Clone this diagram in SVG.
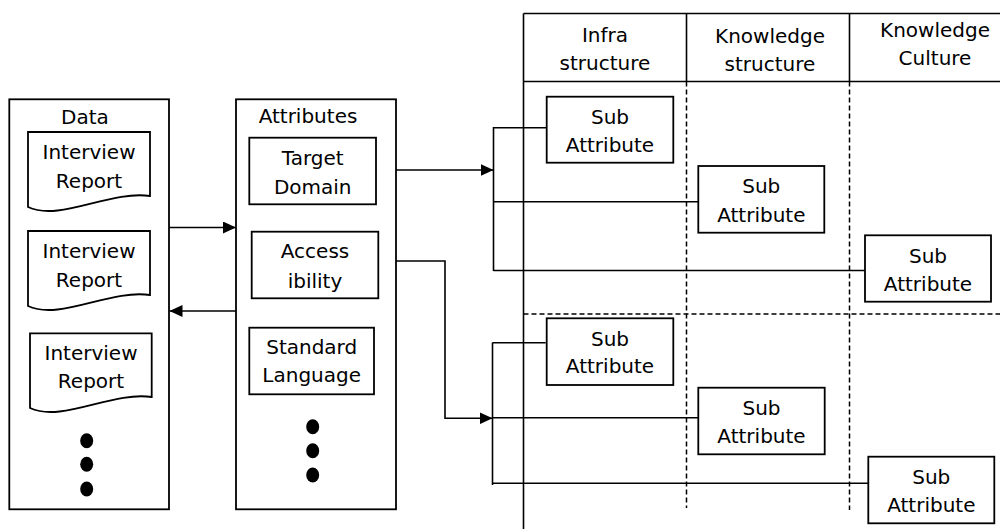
<svg xmlns="http://www.w3.org/2000/svg" width="1000" height="529" viewBox="0 0 1000 529">
<style>
.box{fill:#fff;stroke:#000;stroke-width:1.8}
.ln{fill:none;stroke:#000;stroke-width:1.6}
.dash{fill:none;stroke:#000;stroke-width:1.5;stroke-dasharray:5,3}
text{font-family:"DejaVu Sans","Verdana",sans-serif;font-size:20px;fill:#000;text-anchor:middle}
.dot{fill:#000}
</style>
<defs>
<marker id="ah" viewBox="0 0 13 12" refX="13" refY="6" markerWidth="13" markerHeight="12" markerUnits="userSpaceOnUse" orient="auto">
<path d="M0,0 L13,6 L0,12 Z" fill="#000"/>
</marker>
</defs>
<rect width="1000" height="529" fill="#fff"/>

<g id="grid">
<line class="ln" x1="523.5" y1="13.5" x2="1000" y2="13.5"/>
<line class="ln" x1="523.5" y1="81.5" x2="1000" y2="81.5"/>
<line class="ln" x1="523.5" y1="13.5" x2="523.5" y2="529"/>
<line class="ln" x1="686.5" y1="13.5" x2="686.5" y2="81.5"/>
<line class="ln" x1="849.5" y1="13.5" x2="849.5" y2="81.5"/>
<line class="dash" x1="686.5" y1="81.5" x2="686.5" y2="508"/>
<line class="dash" x1="849.5" y1="81.5" x2="849.5" y2="510"/>
<line class="dash" x1="523.5" y1="314" x2="1000" y2="314"/>
<text x="605" y="41.5">Infra</text>
<text x="605" y="69.5">structure</text>
<text x="770" y="43">Knowledge</text>
<text x="770" y="71">structure</text>
<text x="935" y="37">Knowledge</text>
<text x="935" y="65">Culture</text>
</g>

<g id="connectors">
<line class="ln" x1="169" y1="227.5" x2="236" y2="227.5" marker-end="url(#ah)"/>
<line class="ln" x1="238" y1="311" x2="169.5" y2="311" marker-end="url(#ah)"/>
<line class="ln" x1="376" y1="170" x2="493.5" y2="170" marker-end="url(#ah)"/>
<polyline class="ln" points="378,261 445,261 445,418.3 492.5,418.3" marker-end="url(#ah)"/>
<line class="ln" x1="493.5" y1="127" x2="493.5" y2="271"/>
<line class="ln" x1="493.5" y1="127.7" x2="546.7" y2="127.7"/>
<line class="ln" x1="493.5" y1="201.7" x2="698.3" y2="201.7"/>
<line class="ln" x1="493.5" y1="270.5" x2="867.7" y2="270.5"/>
<line class="ln" x1="492.5" y1="342.5" x2="492.5" y2="485"/>
<line class="ln" x1="492.5" y1="342.7" x2="545.7" y2="342.7"/>
<line class="ln" x1="492.5" y1="417.7" x2="698.3" y2="417.7"/>
<line class="ln" x1="492.5" y1="483.3" x2="876.7" y2="483.3"/>
</g>

<g id="data">
<rect class="box" x="9.3" y="99.3" width="159.7" height="410"/>
<text x="85" y="124">Data</text>
</g>
<g id="report1">
<path class="box" d="M28,132 H150 V196 C110,190 60,222 28,207 Z"/>
<text x="89" y="159">Interview</text>
<text x="89" y="188">Report</text>
</g>
<g id="report2">
<path class="box" d="M28,231 H150 V295 C110,289 60,321 28,306 Z"/>
<text x="89" y="257.7">Interview</text>
<text x="89" y="287">Report</text>
</g>
<g id="report3">
<path class="box" d="M30,333.3 H151.7 V397 C112,391 62,423 30,408 Z"/>
<text x="91" y="360">Interview</text>
<text x="91" y="388">Report</text>
</g>
<g id="data-dots">
<ellipse class="dot" cx="86.7" cy="440.7" rx="6.5" ry="7.5"/>
<ellipse class="dot" cx="86.7" cy="464.3" rx="6.5" ry="7.5"/>
<ellipse class="dot" cx="86.7" cy="489" rx="6.5" ry="7.5"/>
</g>

<g id="attributes">
<rect class="box" x="236" y="99.3" width="160" height="410"/>
<text x="308" y="123">Attributes</text>
</g>
<g id="target-domain">
<rect class="box" x="249.3" y="137.7" width="126.7" height="66.6"/>
<text x="312.7" y="165">Target</text>
<text x="312.7" y="194">Domain</text>
</g>
<g id="accessibility">
<rect class="box" x="251.7" y="231.7" width="126.6" height="66.6"/>
<text x="315" y="258.3">Access</text>
<text x="315" y="288">ibility</text>
</g>
<g id="standard-language">
<rect class="box" x="249.3" y="327.7" width="124.7" height="66.6"/>
<text x="311.7" y="354">Standard</text>
<text x="311.7" y="381.7">Language</text>
</g>
<g id="attr-dots">
<ellipse class="dot" cx="312.7" cy="426.7" rx="6.5" ry="7.5"/>
<ellipse class="dot" cx="312.7" cy="450.7" rx="6.5" ry="7.5"/>
<ellipse class="dot" cx="312.7" cy="475" rx="6.5" ry="7.5"/>
</g>

<g id="sub1">
<rect class="box" x="546.7" y="96.7" width="126.6" height="66"/>
<text x="610" y="124">Sub</text>
<text x="610" y="151.7">Attribute</text>
</g>
<g id="sub2">
<rect class="box" x="698.3" y="166" width="126" height="66.7"/>
<text x="761.3" y="193.3">Sub</text>
<text x="761.3" y="221.7">Attribute</text>
</g>
<g id="sub3">
<rect class="box" x="865" y="235.3" width="126" height="66.4"/>
<text x="928" y="262.7">Sub</text>
<text x="928" y="290.7">Attribute</text>
</g>
<g id="sub4">
<rect class="box" x="546.7" y="318.3" width="126.6" height="66.7"/>
<text x="610" y="345.7">Sub</text>
<text x="610" y="373.3">Attribute</text>
</g>
<g id="sub5">
<rect class="box" x="698.3" y="387.7" width="126.4" height="66.6"/>
<text x="761.5" y="415">Sub</text>
<text x="761.5" y="443.3">Attribute</text>
</g>
<g id="sub6">
<rect class="box" x="868.3" y="456.7" width="126" height="66.6"/>
<text x="931.3" y="484.3">Sub</text>
<text x="931.3" y="512.3">Attribute</text>
</g>
</svg>
